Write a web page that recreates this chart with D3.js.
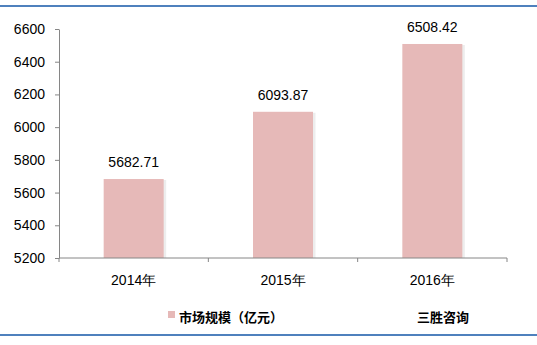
<!DOCTYPE html>
<html><head><meta charset="utf-8">
<script src="https://cdn.jsdelivr.net/npm/d3@7/dist/d3.min.js"></script>
<style>body{margin:0;background:#fff}svg{display:block}</style>
</head><body>
<script>
const categories = ["2014年", "2015年", "2016年"];
const values = [5682.71, 6093.87, 6508.42];
const yTicks = [5200, 5400, 5600, 5800, 6000, 6200, 6400, 6600];
const seriesName = "市场规模（亿元）";
const source = "三胜咨询";

const W = 537, H = 345;
const svg = d3.select("body").append("svg").attr("width", W).attr("height", H);
const font = "'Liberation Sans', Arial, sans-serif";

svg.append("rect").attr("x",0).attr("y",5).attr("width",W).attr("height",2).attr("fill","#4f81bd");
svg.append("rect").attr("x",0).attr("y",334).attr("width",W).attr("height",2).attr("fill","#4f81bd");

const x = d3.scaleBand().domain(categories).range([59, 507]);
const y = d3.scaleLinear().domain([5200, 6600]).range([258, 29]);

const bw = 60;
const g = svg.append("g");
// shadows
g.selectAll(".sh").data(values).enter().append("rect")
  .attr("x", (d,i)=>x(categories[i]) + x.bandwidth()/2 - bw/2 + 1)
  .attr("y", d=>y(d)+1).attr("width", bw+1.5).attr("height", d=>y(5200)-y(d)-1)
  .attr("fill","#ededed");
g.selectAll(".bar").data(values).enter().append("rect")
  .attr("x", (d,i)=>x(categories[i]) + x.bandwidth()/2 - bw/2)
  .attr("y", d=>y(d)).attr("width", bw).attr("height", d=>y(5200)-y(d))
  .attr("fill","#e6b9b8");
g.selectAll(".lbl").data(values).enter().append("text")
  .attr("x", (d,i)=>x(categories[i]) + x.bandwidth()/2)
  .attr("y", d=>y(d)-12).attr("text-anchor","middle")
  .attr("font-family",font).attr("font-size",14).attr("fill","#000")
  .text(d=>d.toFixed(2));

// y axis
const ya = svg.append("g").attr("transform","translate(59,0)")
  .call(d3.axisLeft(y).tickValues(yTicks).tickSize(4).tickSizeOuter(0).tickPadding(10).tickFormat(d3.format("d")));
ya.select(".domain").attr("stroke","#868686");
ya.selectAll(".tick line").attr("stroke","#868686");
ya.selectAll("text").attr("font-family",font).attr("font-size",14).attr("fill","#000");

// x axis
const xa = svg.append("g").attr("transform","translate(0,258)")
  .call(d3.axisBottom(x).tickSize(0).tickPadding(17));
xa.select(".domain").attr("stroke","#868686").attr("d","M59,0H507");
xa.selectAll("text").attr("font-family",font).attr("font-size",14).attr("fill","#000");
const bounds = [59].concat(categories.map(c=>x(c)+x.bandwidth()));
xa.selectAll(".bt").data(bounds).enter().append("line")
  .attr("x1",d=>d).attr("x2",d=>d).attr("y1",0).attr("y2",4).attr("stroke","#868686");

// legend
svg.append("rect").attr("x",168).attr("y",311).attr("width",7).attr("height",7).attr("fill","#e6b9b8");
svg.append("text").attr("x",179).attr("y",322).attr("font-family","'Noto Sans CJK SC', sans-serif")
  .attr("font-weight","bold").attr("font-size",13).text(seriesName);
svg.append("text").attr("x",417).attr("y",322).attr("font-family","'Noto Sans CJK SC', sans-serif")
  .attr("font-weight","bold").attr("font-size",13).text(source);
</script>
</body></html>
